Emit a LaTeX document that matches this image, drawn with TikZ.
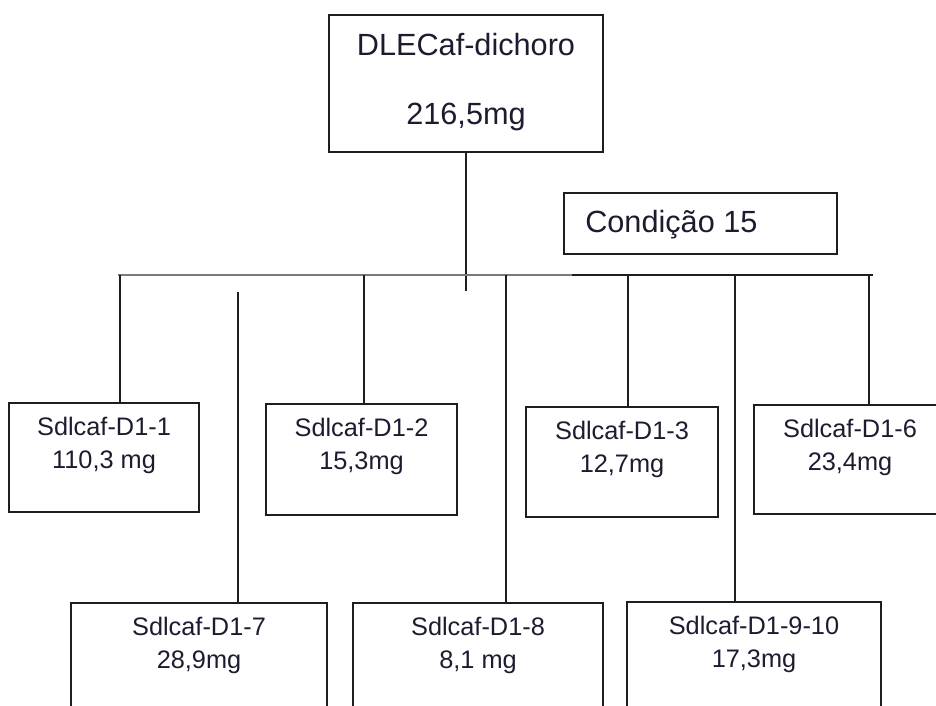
\documentclass[tikz,border=0pt]{standalone}
\usepackage{fontspec}
\setmainfont{Liberation Sans}
\newdimen\pxu \pxu=0.75pt
\definecolor{linec}{HTML}{1E1E1E}
\definecolor{busgray}{HTML}{7A7A7A}
\definecolor{textc}{HTML}{1C1C30}
\begin{document}
\begin{tikzpicture}[x=0.75pt,y=-0.75pt,
  box/.style={draw=linec, line width=1.5pt, rectangle, inner sep=0pt, fill=none},
  conn/.style={draw=linec, line width=1.5pt},
  lbl/.style={anchor=north, inner sep=0pt, align=center, text=textc,
              font=\fontsize{19pt}{24.75pt}\selectfont},
  biglbl/.style={lbl, font=\fontsize{23pt}{52pt}\selectfont}]
\useasboundingbox (0,0) rectangle (936,706);
\clip (0,0) rectangle (936,706);
% boxes
\node[box, minimum width=274\pxu, minimum height=137\pxu] (top) at (466,83.5) {};
\node[box, minimum width=273\pxu, minimum height=61\pxu] (cond) at (700.5,223.5) {};
\node[box, minimum width=190\pxu, minimum height=109\pxu] (b1) at (104,457.5) {};
\node[box, minimum width=191\pxu, minimum height=111\pxu] (b2) at (361.5,459.5) {};
\node[box, minimum width=192\pxu, minimum height=110\pxu] (b3) at (622,462) {};
\node[box, minimum width=192\pxu, minimum height=109\pxu] (b4) at (850,459.5) {};
\node[box, minimum width=256\pxu, minimum height=120\pxu] (b7) at (199,663) {};
\node[box, minimum width=250\pxu, minimum height=120\pxu] (b8) at (478,663) {};
\node[box, minimum width=254\pxu, minimum height=120\pxu] (b9) at (754,662) {};
% texts
\node[biglbl] (t0) at ([yshift=-19\pxu]top.north) {DLECaf-dichoro\\216,5mg};
\node[anchor=base west, inner sep=0pt, text=textc, font=\fontsize{23pt}{27pt}\selectfont] (t15) at (585,233) {Condição 15};
\node[lbl] (t1) at ([yshift=-15\pxu]b1.north) {Sdlcaf-D1-1\\110,3 mg};
\node[lbl] (t2) at ([yshift=-15\pxu]b2.north) {Sdlcaf-D1-2\\15,3mg};
\node[lbl] (t3) at ([yshift=-15\pxu]b3.north) {Sdlcaf-D1-3\\12,7mg};
\node[lbl] (t4) at ([yshift=-15\pxu]b4.north) {Sdlcaf-D1-6\\23,4mg};
\node[lbl] (t7) at ([yshift=-15\pxu]b7.north) {Sdlcaf-D1-7\\28,9mg};
\node[lbl] (t8) at ([yshift=-15\pxu]b8.north) {Sdlcaf-D1-8\\8,1 mg};
\node[lbl] (t9) at ([yshift=-15\pxu]b9.north) {Sdlcaf-D1-9-10\\17,3mg};
% bus coordinates
\coordinate (busL) at (118,275);
\coordinate (busM) at (572,275);
\coordinate (busR) at (873,275);
\coordinate (jn) at (466,291);
\coordinate (d1) at (120,275);
\coordinate (d7) at (238,292);
\coordinate (d2) at (364,275);
\coordinate (d8) at (506,275);
\coordinate (d3) at (628,275);
\coordinate (d9) at (735,275);
\coordinate (d4) at (869,275);
% connectors
\draw[conn] (top.south) -- (jn);
\draw[conn, draw=busgray] (busL) -- (busM);
\draw[conn] (busM) -- (busR);
\draw[conn] (d1) -- (d1 |- b1.north);
\draw[conn] (d7) -- (d7 |- b7.north);
\draw[conn] (d2) -- (d2 |- b2.north);
\draw[conn] (d8) -- (d8 |- b8.north);
\draw[conn] (d3) -- (d3 |- b3.north);
\draw[conn] (d9) -- (d9 |- b9.north);
\draw[conn] (d4) -- (d4 |- b4.north);
\end{tikzpicture}
\end{document}
